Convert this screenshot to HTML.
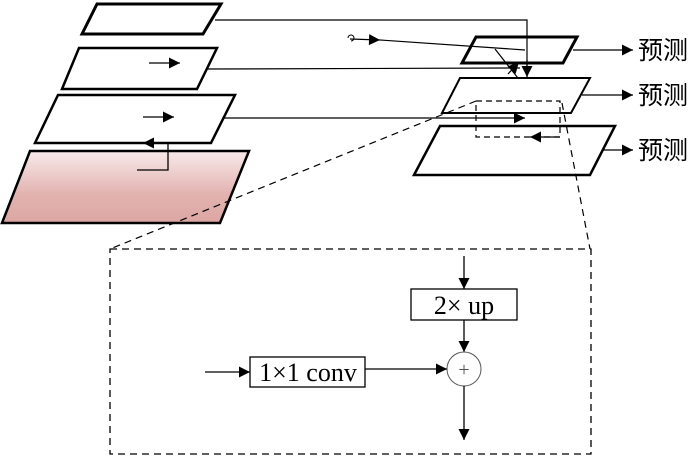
<!DOCTYPE html>
<html><head><meta charset="utf-8"><style>html,body{margin:0;padding:0;background:#fff;width:700px;height:458px;overflow:hidden}</style></head>
<body>
<svg width="700" height="458" viewBox="0 0 700 458" xmlns="http://www.w3.org/2000/svg">
<defs>
<linearGradient id="g" x1="0" y1="0" x2="0" y2="1">
<stop offset="0" stop-color="#f8eaea"/><stop offset="0.6" stop-color="#e2b3b0"/><stop offset="1" stop-color="#dca6a3"/></linearGradient>
<marker id="b" viewBox="0 0 10 10" refX="10" refY="5" markerWidth="17" markerHeight="11" markerUnits="userSpaceOnUse" orient="auto"><path d="M0,0L10,5L0,10z" fill="#000"/></marker>
</defs>
<g fill="none" stroke="#000">
<polygon points="82,34 97,4 221,4 203,34" stroke-width="3" fill="#fff"/>
<polygon points="62,89 79,48 217,48 197,89" stroke-width="2.5" fill="#fff"/>
<polygon points="35,143 58,95 235,95 211,143" stroke-width="2.5" fill="#fff"/>
<polygon points="2,223 30,151 249,151 220,223" stroke-width="2.5" fill="url(#g)"/>
<line x1="149" y1="63" x2="180" y2="63" stroke-width="1.3" marker-end="url(#b)"/>
<line x1="143" y1="117" x2="174" y2="117" stroke-width="1.3" marker-end="url(#b)"/>
<polyline points="137,170 168,170 168,143 143,143" stroke-width="1.3" marker-end="url(#b)"/>
<polyline points="215,20 527,20 527,87" stroke-width="1.2"/>
<line x1="527" y1="60" x2="527" y2="77" stroke-width="1.2" marker-end="url(#b)"/>
<line x1="207" y1="69" x2="520" y2="68" stroke-width="1.2"/>
<line x1="495" y1="49" x2="525" y2="87" stroke-width="1.2"/>
<line x1="508" y1="74" x2="519" y2="62" stroke-width="1.2" marker-end="url(#b)"/>
<path d="M348,38 a3,3 0 1 1 3,3" stroke-width="1"/>
<line x1="350" y1="39" x2="380" y2="40" stroke-width="1.2" marker-end="url(#b)"/>
<line x1="380" y1="40" x2="525" y2="50" stroke-width="1.2"/>
<polygon points="462,63 476,37 577,37 563,63" stroke-width="3"/>
<polygon points="442,113 460,78 590,78 571,113" stroke-width="2" fill="#fff"/>
<polygon points="414,175 440,126 615,126 590,175" stroke-width="2.5" fill="#fff"/>
<line x1="573" y1="50" x2="633" y2="50" stroke-width="1.3" marker-end="url(#b)"/>
<line x1="582" y1="95" x2="633" y2="95" stroke-width="1.3" marker-end="url(#b)"/>
<line x1="603" y1="150" x2="633" y2="150" stroke-width="1.3" marker-end="url(#b)"/>
<line x1="222" y1="118" x2="525" y2="118" stroke-width="1.2" marker-end="url(#b)"/>
<rect x="476" y="101" width="84" height="36" stroke-dasharray="6,4" stroke-width="1.2"/>
<line x1="560" y1="137" x2="530" y2="137" stroke-width="1.2" marker-end="url(#b)"/>
<line x1="476" y1="101" x2="110" y2="249" stroke-dasharray="7,5" stroke-width="1.2"/>
<line x1="562" y1="103" x2="590" y2="249" stroke-dasharray="7,5" stroke-width="1.2"/>
<rect x="110" y="249" width="481" height="205" stroke-dasharray="7,5" stroke-width="1.3"/>
<line x1="464" y1="256" x2="464" y2="289" stroke-width="1.3" marker-end="url(#b)"/>
<rect x="411" y="289" width="106" height="31" stroke-width="1.3" fill="#fff"/>
<line x1="464" y1="320" x2="464" y2="352" stroke-width="1.3" marker-end="url(#b)"/>
<circle cx="464" cy="369" r="17" stroke="#555" stroke-width="1"/>
<line x1="205" y1="372" x2="250" y2="372" stroke-width="1.3" marker-end="url(#b)"/>
<rect x="250" y="357" width="115" height="30" stroke-width="1.3" fill="#fff"/>
<line x1="365" y1="369" x2="447" y2="369" stroke-width="1.3" marker-end="url(#b)"/>
<line x1="464" y1="386" x2="464" y2="440" stroke-width="1.3" marker-end="url(#b)"/>
</g>
<g font-family="'Liberation Serif','Noto Serif CJK SC',serif" fill="#000">
<text x="638" y="59" font-size="25" font-family="'Noto Sans CJK SC',sans-serif">预测</text>
<text x="638" y="104" font-size="25" font-family="'Noto Sans CJK SC',sans-serif">预测</text>
<text x="638" y="159" font-size="25" font-family="'Noto Sans CJK SC',sans-serif">预测</text>
<text x="464" y="314" font-size="26" text-anchor="middle">2× up</text>
<text x="308" y="381" font-size="26" text-anchor="middle">1×1 conv</text>
<text x="464" y="376" font-size="20" text-anchor="middle" fill="#555">+</text>
</g>
</svg>
</body></html>
